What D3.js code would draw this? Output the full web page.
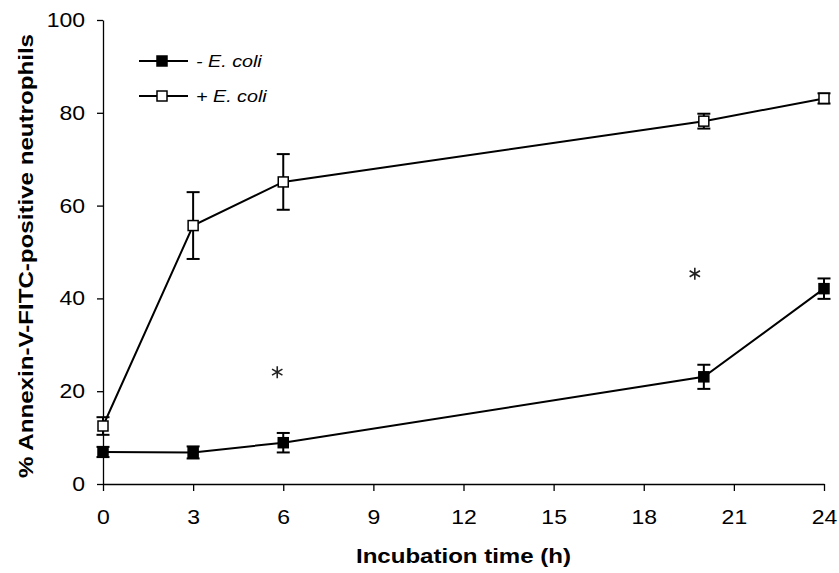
<!DOCTYPE html>
<html>
<head>
<meta charset="utf-8">
<script src="https://cdn.jsdelivr.net/npm/d3@7"></script>
<style>
  body { margin: 0; background: #fff; }
  text { font-family: "Liberation Sans", Arial, sans-serif; }
</style>
</head>
<body>
<div class="chart"></div>
<script>
// data
const times = [0, 3, 6, 20, 24];
const minusMean = [6.9, 6.8, 8.9, 23.1, 42.1];
const minusErr = [1.1, 1.3, 2.1, 2.6, 2.2];
const plusMean = [12.5, 55.7, 65.1, 78.2, 83.1];
const plusErr = [1.9, 7.2, 6.0, 1.6, 1.1];
const xTicks = [0, 3, 6, 9, 12, 15, 18, 21, 24];
const yTicks = [0, 20, 40, 60, 80, 100];
const seriesNames = ["- E. coli", "+ E. coli"];
// significance markers [time, value]
const stars = [[5.8, 24.1], [19.7, 45.3]];

const margin = {top: 20, right: 15, bottom: 89, left: 103};
const width = 839 - margin.left - margin.right;
const height = 573 - margin.top - margin.bottom;

// the original lettering is a bit wider than Liberation Sans
function stretch(sel, k) {
    sel.each(function() {
        const len = this.getComputedTextLength();
        d3.select(this)
            .attr("textLength", len * k)
            .attr("lengthAdjust", "spacingAndGlyphs");
    });
}

const svg = d3.select(".chart").append("svg")
    .attr("width", width + margin.left + margin.right)
    .attr("height", height + margin.top + margin.bottom)
    .append("g")
    .attr("transform", "translate(" + margin.left + "," + margin.top + ")");

const xScale = d3.scaleLinear().domain([0, 24]).range([0, width]);
const yScale = d3.scaleLinear().domain([0, 100]).range([height, 0]);

// axes
const xAxis = d3.axisBottom(xScale).tickValues(xTicks).tickSize(7).tickPadding(19).tickSizeOuter(0);
const yAxis = d3.axisLeft(yScale).tickValues(yTicks).tickSize(6).tickPadding(12).tickSizeOuter(0);

svg.append("g")
    .attr("class", "x-axis")
    .attr("transform", "translate(0," + height + ")")
    .call(xAxis);
svg.append("g")
    .attr("class", "y-axis")
    .call(yAxis);

svg.selectAll(".x-axis text, .y-axis text")
    .attr("font-size", "20px")
    .attr("font-family", "Liberation Sans, Arial, sans-serif")
    .attr("fill", "#000")
    .call(stretch, 1.15);
svg.selectAll(".x-axis path, .y-axis path, .x-axis line, .y-axis line")
    .attr("stroke", "#000")
    .attr("stroke-width", 1.3);

// axis titles
svg.append("text")
    .attr("x", width / 2)
    .attr("y", height + 79)
    .attr("text-anchor", "middle")
    .attr("font-size", "20px")
    .attr("font-weight", "bold")
    .attr("textLength", 215)
    .attr("lengthAdjust", "spacingAndGlyphs")
    .text("Incubation time (h)");

svg.append("text")
    .attr("transform", "translate(" + (-70) + "," + (height / 2 + 4) + ") rotate(-90)")
    .attr("text-anchor", "middle")
    .attr("font-size", "21px")
    .attr("font-weight", "bold")
    .attr("textLength", 444)
    .attr("lengthAdjust", "spacingAndGlyphs")
    .text("% Annexin-V-FITC-positive neutrophils");

const series = [
    {name: seriesNames[0], mean: minusMean, err: minusErr, fill: "#000"},
    {name: seriesNames[1], mean: plusMean, err: plusErr, fill: "#fff"}
];

const line = d3.line()
    .x(d => xScale(d.t))
    .y(d => yScale(d.v));

const capW = 6.5;
const sq = 10;

series.forEach(s => {
    const pts = times.map((t, i) => ({t: t, v: s.mean[i], e: s.err[i]}));

    svg.append("path")
        .datum(pts)
        .attr("d", line)
        .attr("fill", "none")
        .attr("stroke", "#000")
        .attr("stroke-width", 2);

    const eb = svg.append("g");
    pts.forEach(d => {
        const x = xScale(d.t);
        const y1 = yScale(d.v + d.e);
        const y0 = yScale(d.v - d.e);
        eb.append("line").attr("x1", x).attr("x2", x).attr("y1", y1).attr("y2", y0)
            .attr("stroke", "#000").attr("stroke-width", 2);
        eb.append("line").attr("x1", x - capW).attr("x2", x + capW).attr("y1", y1).attr("y2", y1)
            .attr("stroke", "#000").attr("stroke-width", 2);
        eb.append("line").attr("x1", x - capW).attr("x2", x + capW).attr("y1", y0).attr("y2", y0)
            .attr("stroke", "#000").attr("stroke-width", 2);
    });

    svg.selectAll(null)
        .data(pts)
        .enter()
        .append("rect")
        .attr("x", d => xScale(d.t) - sq / 2)
        .attr("y", d => yScale(d.v) - sq / 2)
        .attr("width", sq)
        .attr("height", sq)
        .attr("fill", s.fill)
        .attr("stroke", "#000")
        .attr("stroke-width", 1.5);
});

// asterisks, six arms like the original
const r = 6;
const starPath = d3.range(3).map(i => {
    const a = Math.PI / 2 + i * Math.PI / 3;
    const dx = r * Math.cos(a), dy = r * Math.sin(a);
    return "M" + (-dx) + "," + (-dy) + "L" + dx + "," + dy;
}).join("");
svg.selectAll(".star")
    .data(stars)
    .enter()
    .append("path")
    .attr("class", "star")
    .attr("transform", d => "translate(" + xScale(d[0]) + "," + yScale(d[1]) + ")")
    .attr("d", starPath)
    .attr("stroke", "#222")
    .attr("stroke-width", 1.6)
    .attr("fill", "none");

// legend
const legend = svg.append("g").attr("transform", "translate(36,41)");
series.forEach((s, i) => {
    const g = legend.append("g").attr("transform", "translate(0," + i * 35 + ")");
    g.append("line").attr("x1", 0).attr("x2", 49).attr("y1", 0).attr("y2", 0)
        .attr("stroke", "#000").attr("stroke-width", 2);
    g.append("rect").attr("x", 23 - sq / 2).attr("y", -sq / 2).attr("width", sq).attr("height", sq)
        .attr("fill", s.fill).attr("stroke", "#000").attr("stroke-width", 1.5);
    g.append("text").attr("x", 57).attr("y", 6)
        .attr("font-size", "17px")
        .attr("font-style", "italic")
        .text(s.name)
        .call(stretch, 1.16);
});
</script>
</body>
</html>
